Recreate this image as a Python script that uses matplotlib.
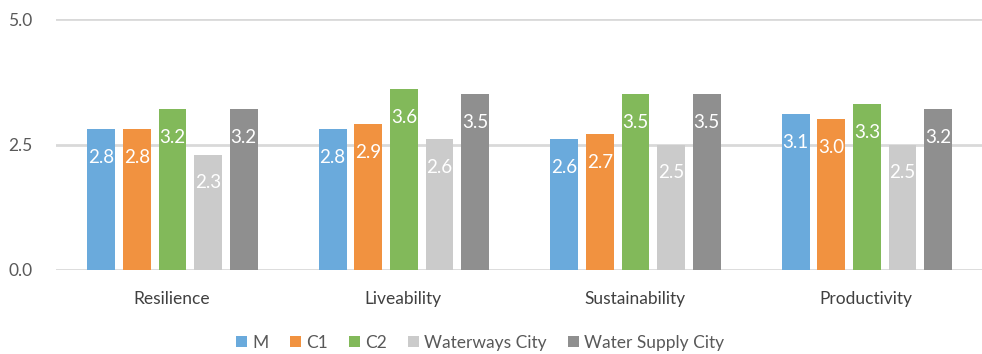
import matplotlib.pyplot as plt
import numpy as np

categories = ["Resilience", "Liveability", "Sustainability", "Productivity"]
series_names = ["M", "C1", "C2", "Waterways City", "Water Supply City"]
M = [2.8, 2.8, 2.6, 3.1]
C1 = [2.8, 2.9, 2.7, 3.0]
C2 = [3.2, 3.6, 3.5, 3.3]
Waterways = [2.3, 2.6, 2.5, 2.5]
WaterSupply = [3.2, 3.5, 3.5, 3.2]
colors = ["#6aaadc", "#f19240", "#82b95a", "#cbcbcb", "#8f8f8f"]

plt.rcParams['font.family'] = ['Lato', 'DejaVu Sans']

fig = plt.figure(figsize=(9.82, 3.54), dpi=100)
ax = fig.add_axes([56/982, 1-270/354, 926/982, 251/354])

x = np.arange(len(categories))
width = 0.12
step = 0.154
all_series = [M, C1, C2, Waterways, WaterSupply]
for i, vals in enumerate(all_series):
    pos = x + (i - 2) * step + 0.003
    bars = ax.bar(pos, vals, width, color=colors[i], label=series_names[i], zorder=3)
    for b, v in zip(bars, vals):
        ax.annotate("%.1f" % v, (b.get_x() + b.get_width()/2, v),
                    xytext=(0, -20), textcoords="offset points",
                    ha="center", va="center", color="white", fontsize=13.5, zorder=4)

ax.set_ylim(0, 5)
ax.set_xlim(-0.5, 3.5)
ax.set_yticks([0, 2.5, 5.0])
ax.set_yticklabels(["0.0", "2.5", "5.0"])
ax.set_xticks(x)
ax.set_xticklabels(categories)
ax.yaxis.grid(True, color="#d9d9d9", linewidth=2, zorder=0)
for s in ax.spines.values():
    s.set_visible(False)
ax.tick_params(axis="both", length=0, labelsize=12.5, colors="#404040")
ax.tick_params(axis="y", pad=17, labelcolor="#595959")
ax.tick_params(axis="x", pad=15)

ax.legend(loc="center", bbox_to_anchor=(0.458, -0.29), ncol=5, frameon=False,
          fontsize=12.5, handlelength=0.65, handleheight=0.65, handletextpad=0.3,
          columnspacing=1.2, labelcolor="#595959", borderpad=0)

fig.savefig("out.png", dpi=100)
